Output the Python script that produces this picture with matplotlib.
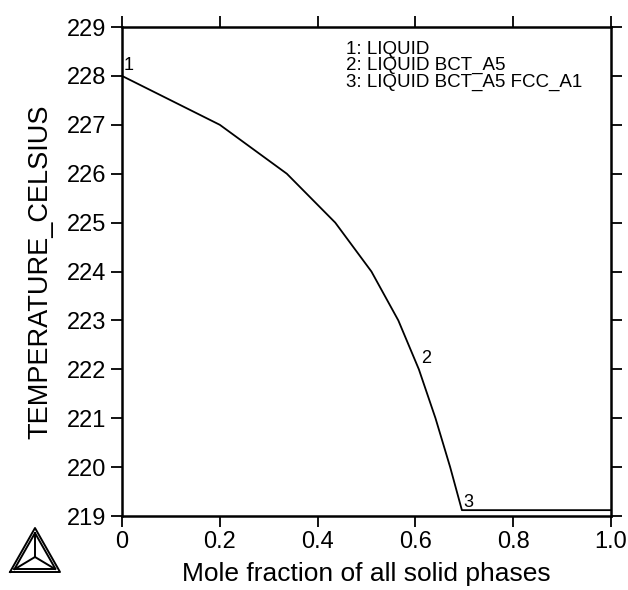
import matplotlib
matplotlib.use("Agg")
import matplotlib.pyplot as plt
from matplotlib.lines import Line2D

plt.rcParams['font.family'] = ['Liberation Sans', 'DejaVu Sans']

# step points of the solidification path
frac = [0.0, 0.2, 0.337, 0.436, 0.51, 0.565, 0.607, 0.641, 0.671, 0.695, 1.0]
temp = [228.0, 227.0, 226.0, 225.0, 224.0, 223.0, 222.0, 221.0, 220.0, 219.12, 219.12]

labels = ['1', '2', '3']
label_x = [0.003, 0.612, 0.698]
label_y = [228.03, 222.05, 219.1]
legend_lines = ['1: LIQUID', '2: LIQUID BCT_A5', '3: LIQUID BCT_A5 FCC_A1']

xticks = [0, 0.2, 0.4, 0.6, 0.8, 1.0]
xticklabels = ['0', '0.2', '0.4', '0.6', '0.8', '1.0']
yticks = list(range(219, 230))

fig = plt.figure(figsize=(6.28, 5.90), dpi=100)
ax = fig.add_axes([0.1943, 0.1254, 0.7787, 0.8288])

ax.plot(frac, temp, color='black', lw=1.3)
for t, lx, ly in zip(labels, label_x, label_y):
    ax.text(lx, ly, t, fontsize=13, ha='left', va='bottom')

for i, s in enumerate(legend_lines):
    ax.text(0.457, 0.955 - i * 0.034, s, transform=ax.transAxes, fontsize=13.5,
            ha='left', va='center')

ax.set_xlim(0, 1.0)
ax.set_ylim(219, 229)
ax.set_xticks(xticks)
ax.set_xticklabels(xticklabels)
ax.set_yticks(yticks)
for sp in ax.spines.values():
    sp.set_linewidth(1.8)
ax.tick_params(direction='out', length=8, width=1.3, labelsize=17, pad=3,
               top=True, right=True, labeltop=False, labelright=False)
ax.set_xlabel('Mole fraction of all solid phases', fontsize=19, labelpad=6)
ax.set_ylabel('TEMPERATURE_CELSIUS', fontsize=19.5, labelpad=10)

# Thermo-Calc style logo, bottom left
def tri(cx, cy, w, h):
    return [cx - w / 2, cx + w / 2, cx, cx - w / 2], [cy, cy, cy + h, cy]

W, H = 628.0, 590.0
cx, by = 35 / W, (590 - 572) / H
for w, h, dy in [(50, 44, 0), (41, 36, 3)]:
    xs, ys = tri(cx, by + dy / H, w / W, h / H)
    fig.add_artist(Line2D(xs, ys, color='black', lw=1.4))
mx, my = cx, by + 15 / H
for vx, vy in [(cx - 20 / W, by + 3 / H), (cx + 20 / W, by + 3 / H), (cx, by + 39 / H)]:
    fig.add_artist(Line2D([mx, vx], [my, vy], color='black', lw=1.4))

fig.savefig('out.png', dpi=100)
